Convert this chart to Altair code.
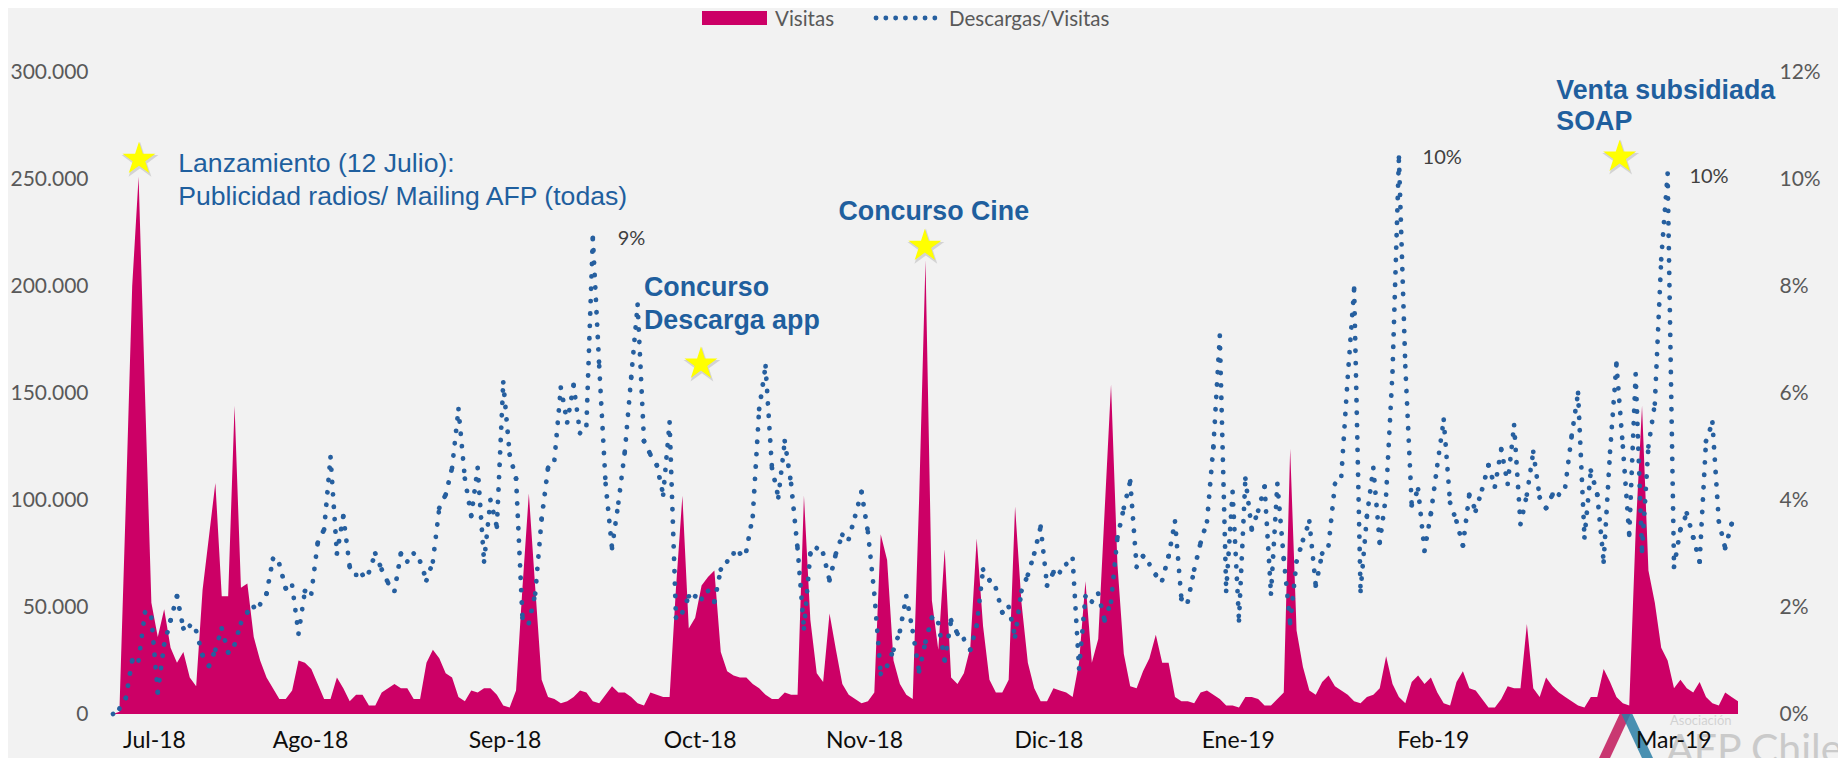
import altair as alt
import pandas as pd

# ---------------- data ----------------
# daily visits, in thousands
visitas_k = [
    0, 1, 98, 200, 251, 150, 52, 36, 49, 31, 24, 29, 17, 13, 58, 83, 108, 55, 55, 144,
    59, 61, 36, 25, 17, 12, 7, 7, 11, 25, 24, 21, 14, 7, 7, 17, 12, 6, 9, 9,
    4, 4, 10, 12, 14, 12, 12, 7, 7, 24, 30, 26, 19, 17, 8, 6, 11, 10, 12, 12,
    9, 4, 3, 11, 59, 103, 59, 16, 8, 7, 5, 6, 8, 11, 10, 6, 5, 9, 13, 10,
    10, 8, 5, 4, 10, 9, 8, 8, 59, 102, 40, 45, 60, 64, 67, 29, 20, 18, 17, 17,
    14, 12, 9, 7, 7, 10, 9, 9, 102, 44, 19, 15, 47, 30, 14, 9, 7, 5, 6, 10,
    84, 72, 25, 14, 9, 7, 100, 212, 53, 30, 77, 17, 14, 19, 31, 82, 41, 16, 10, 10,
    16, 97, 52, 24, 12, 6, 6, 12, 11, 10, 8, 24, 62, 24, 35, 95, 154, 70, 28, 13,
    12, 20, 26, 37, 24, 24, 8, 6, 6, 5, 10, 11, 9, 7, 4, 4, 3, 8, 8, 7,
    4, 4, 7, 10, 124, 39, 22, 11, 9, 15, 18, 13, 11, 9, 6, 5, 8, 9, 12, 27,
    14, 8, 5, 15, 18, 14, 17, 10, 5, 4, 15, 20, 12, 11, 7, 3, 3, 7, 13, 12,
    12, 42, 12, 8, 17, 13, 10, 8, 6, 4, 3, 8, 8, 21, 15, 8, 5, 4, 85, 144,
    67, 52, 31, 25, 12, 16, 12, 10, 15, 8, 5, 4, 10, 8, 6,
]

# daily downloads / visits, in percent
ratio_pct = [
    0, 0.1, 0.3, 1.0, 1.0, 1.9, 1.8, 0.4, 1.3, 1.75, 2.2, 1.6, 1.65, 1.55, 1.1, 0.9, 1.2, 1.6, 1.15, 1.3,
    1.7, 1.9, 2.0, 2.05, 2.25, 2.9, 2.8, 2.35, 2.4, 1.5, 2.3, 2.25, 3.2, 3.45, 4.8, 3.0, 3.7, 2.75, 2.6, 2.6,
    2.65, 3.0, 2.7, 2.45, 2.3, 3.0, 2.85, 3.0, 2.85, 2.5, 2.85, 3.85, 4.1, 4.6, 5.7, 4.4, 3.7, 4.6, 2.85, 4.0,
    3.5, 6.2, 4.85, 4.4, 1.8, 1.7, 2.25, 3.65, 4.6, 4.75, 6.1, 5.45, 6.15, 5.25, 5.4, 8.9, 6.5, 4.3, 3.1, 3.95,
    4.9, 6.3, 7.65, 5.1, 4.85, 4.65, 4.1, 5.45, 1.8, 1.9, 2.2, 2.2, 2.15, 2.3, 2.1, 2.7, 2.85, 3.0, 3.0, 3.05,
    3.7, 5.7, 6.5, 4.6, 4.05, 5.1, 4.3, 3.1, 1.6, 3.0, 3.1, 3.0, 2.5, 3.0, 3.35, 3.27, 3.7, 4.15, 3.4, 2.25,
    0.75, 0.9, 1.2, 1.55, 2.2, 1.55, 0.8, 1.35, 1.8, 1.7, 1.0, 1.75, 1.5, 1.4, 1.2, 1.65, 2.7, 2.5, 2.35, 1.9,
    2.0, 1.45, 2.3, 2.6, 3.0, 3.5, 2.4, 2.65, 2.65, 2.8, 2.9, 0.85, 2.2, 2.1, 2.25, 1.75, 2.1, 3.3, 3.85, 4.35,
    2.75, 2.95, 2.8, 2.6, 2.5, 2.95, 3.6, 2.15, 2.1, 2.7, 3.2, 3.6, 5.0, 7.07, 2.3, 4.15, 1.75, 4.4, 3.45, 3.8,
    4.25, 2.25, 4.3, 2.9, 1.7, 2.85, 3.25, 3.6, 2.4, 3.0, 3.15, 4.3, 4.45, 6.3, 7.95, 2.3, 3.7, 4.6, 3.2, 4.1,
    6.4, 10.4, 6.5, 3.9, 4.2, 3.05, 3.75, 4.65, 5.5, 3.95, 3.6, 3.15, 4.1, 3.8, 4.2, 4.65, 4.25, 4.95, 4.3, 5.4,
    3.55, 4.1, 4.9, 4.05, 3.85, 4.1, 4.1, 4.25, 5.2, 6.0, 3.3, 4.55, 4.1, 2.85, 4.9, 6.55, 5.0, 3.35, 6.35, 3.05,
    5.0, 5.8, 8.5, 10.1, 2.75, 3.45, 3.75, 3.3, 2.85, 5.1, 5.45, 3.6, 3.1, 3.55, 3.7,
]

meses = ["Jul-18", "Ago-18", "Sep-18", "Oct-18", "Nov-18", "Dic-18", "Ene-19", "Feb-19", "Mar-19"]
mes_pos = [6.4, 30.8, 61.2, 91.7, 117.4, 146.2, 175.8, 206.3, 243.9]

y_ticks = [0, 50000, 100000, 150000, 200000, 250000, 300000]
pct_ticks = [0, 0.02, 0.04, 0.06, 0.08, 0.10, 0.12]

# annotations: text, day position, height on the visits scale
notas_regular = ["Lanzamiento (12 Julio):", "Publicidad radios/ Mailing AFP (todas)"]
notas_regular_x = [10.2, 10.2]
notas_regular_y = [257000, 241600]

notas_bold = ["Concurso", "Descarga app", "Concurso Cine", "Venta subsidiada", "SOAP"]
notas_bold_x = [83.0, 83.0, 113.4, 225.6, 225.6]
notas_bold_y = [199000, 183600, 234600, 291000, 276600]

notas_pct = ["9%", "10%", "10%"]
notas_pct_x = [78.9, 204.7, 246.4]
notas_pct_y = [222000, 259800, 251000]

estrellas_x = [4.06, 91.9, 126.9, 235.5]
estrellas_y = [259300, 163600, 218700, 260300]

# ---------------- tables ----------------
N = len(visitas_k)
df = pd.DataFrame({"dia": list(range(N)), "visitas": [v * 1000 for v in visitas_k]})
seg = pd.DataFrame({
    "dia": list(range(N - 1)),
    "dia2": list(range(1, N)),
    "r": [r / 100 for r in ratio_pct[:-1]],
    "r2": [r / 100 for r in ratio_pct[1:]],
})
df_reg = pd.DataFrame({"t": notas_regular, "x": notas_regular_x, "y": notas_regular_y})
df_bold = pd.DataFrame({"t": notas_bold, "x": notas_bold_x, "y": notas_bold_y})
df_pct = pd.DataFrame({"t": notas_pct, "x": notas_pct_x, "y": notas_pct_y})
df_star = pd.DataFrame({"x": estrellas_x, "y": estrellas_y})

# ---------------- styling ----------------
MAGENTA = "#CC0066"
AZUL_PUNTOS = "#265F9F"
AZUL_TEXTO = "#1F5F9E"
GRIS = "#595959"
DOTS = [0.1, 12.3]

W, H = 1625, 642
xs = alt.Scale(domain=[0, N - 1], nice=False, zero=False, padding=0)
ys = alt.Scale(domain=[0, 300000], nice=False, zero=True)
ps = alt.Scale(domain=[0, 0.12], nice=False, zero=True)

STAR = ("M0,-1 L0.2245,-0.309 L0.951,-0.309 L0.363,0.118 L0.588,0.809 "
        "L0,0.382 L-0.588,0.809 L-0.363,0.118 L-0.951,-0.309 L-0.2245,-0.309 Z")

# month label lookup built from the two lists (nested conditional)
mids = [(a + b) / 2 for a, b in zip(mes_pos[:-1], mes_pos[1:])]
label_expr_x = ""
for m, lim in zip(meses[:-1], mids):
    label_expr_x += "datum.value < %s ? '%s' : " % (lim, m)
label_expr_x += "'%s'" % meses[-1]

X_AX = alt.Axis(
    values=mes_pos, labelExpr=label_expr_x, title=None, grid=False, domain=False,
    ticks=False, tickSize=0, labelFont="Lato", labelFontSize=23, labelColor="#0D0D0D",
    labelPadding=15, labelOverlap=False, labelFlush=False, zindex=2)


def X(field):
    return alt.X(field, scale=xs, axis=X_AX)


area = alt.Chart(df).mark_area(color=MAGENTA, opacity=1).encode(
    x=X("dia:Q"),
    y=alt.Y("visitas:Q", scale=ys, axis=alt.Axis(
        values=y_ticks, labelExpr="replace(format(datum.value, ','), ',', '.')",
        title=None, grid=False, domain=False, ticks=False, tickSize=0,
        labelFont="Lato", labelFontSize=21, labelColor=GRIS, labelPadding=25)),
)

puntos = alt.Chart(seg).mark_rule(
    color=AZUL_PUNTOS, strokeWidth=4.8, strokeDash=DOTS, strokeCap="round"
).encode(
    x=X("dia:Q"),
    x2="dia2:Q",
    y=alt.Y("r:Q", scale=ps, axis=alt.Axis(
        orient="right", values=pct_ticks, format=".0%", title=None, grid=False,
        domain=False, ticks=False, tickSize=0, labelFont="Lato", labelFontSize=21,
        labelColor=GRIS, labelPadding=41)),
    y2="r2:Q",
)


def ann_y():
    return alt.Y("y:Q", scale=ys, axis=None)


sombra = alt.Chart(df_star).mark_point(
    shape=STAR, size=1500, filled=True, color="#9A9A9A", opacity=0.35,
    strokeWidth=0, xOffset=1, yOffset=2
).encode(x=X("x:Q"), y=ann_y())

estrellas = alt.Chart(df_star).mark_point(
    shape=STAR, size=1200, filled=True, color="#FFFF00", opacity=1, strokeWidth=0
).encode(x=X("x:Q"), y=ann_y())

txt_reg = alt.Chart(df_reg).mark_text(
    align="left", baseline="middle", font="Liberation Sans", fontSize=26.6, color=AZUL_TEXTO
).encode(x=X("x:Q"), y=ann_y(), text="t:N")

txt_bold = alt.Chart(df_bold).mark_text(
    align="left", baseline="middle", font="Liberation Sans", fontSize=26.8,
    fontWeight="bold", color=AZUL_TEXTO
).encode(x=X("x:Q"), y=ann_y(), text="t:N")

txt_pct = alt.Chart(df_pct).mark_text(
    align="left", baseline="middle", font="Lato", fontSize=20, color="#404040"
).encode(x=X("x:Q"), y=ann_y(), text="t:N")

# ---------------- legend (top) ----------------
leg_rect = alt.Chart(df.head(1)).mark_rect(color=MAGENTA).encode(
    x=alt.value(589), x2=alt.value(654), y=alt.value(-61), y2=alt.value(-47))
leg_t1 = alt.Chart(df.head(1)).mark_text(
    align="left", baseline="middle", font="Lato", fontSize=20.5, color=GRIS
).encode(x=alt.value(662), y=alt.value(-52), text=alt.value("Visitas"))
leg_dots = alt.Chart(df.head(1)).mark_rule(
    color=AZUL_PUNTOS, strokeWidth=4.8, strokeDash=[0.1, 9.7], strokeCap="round"
).encode(x=alt.value(763), x2=alt.value(830), y=alt.value(-54))
leg_t2 = alt.Chart(df.head(1)).mark_text(
    align="left", baseline="middle", font="Lato", fontSize=20.5, color=GRIS
).encode(x=alt.value(836), y=alt.value(-52), text=alt.value("Descargas/Visitas"))

# ---------------- logo watermark ----------------
logo_a = alt.Chart(df.head(1)).mark_rule(color="#C2185B", strokeWidth=10, opacity=0.85).encode(
    x=alt.value(1485), x2=alt.value(1513), y=alt.value(700), y2=alt.value(640))
logo_b = alt.Chart(df.head(1)).mark_rule(color="#2B7FA6", strokeWidth=10, opacity=0.85).encode(
    x=alt.value(1513), x2=alt.value(1541), y=alt.value(640), y2=alt.value(700))
logo_t = alt.Chart(df.head(1)).mark_text(
    align="left", baseline="middle", font="Lato", fontSize=41, color="#C4C4C4", opacity=0.85
).encode(x=alt.value(1553), y=alt.value(679), text=alt.value("AFP Chile"))
logo_s = alt.Chart(df.head(1)).mark_text(
    align="left", baseline="middle", font="Lato", fontSize=13, color="#D2D2D2"
).encode(x=alt.value(1557), y=alt.value(649), text=alt.value("Asociación"))

chart = alt.layer(
    logo_a, logo_b, logo_t, logo_s,
    area, puntos, sombra, estrellas, txt_reg, txt_bold, txt_pct,
    leg_rect, leg_t1, leg_dots, leg_t2,
).resolve_scale(y="independent").properties(
    width=W, height=H,
    autosize=alt.AutoSizeParams(type="none"),
    padding={"left": 105, "top": 64, "right": 100, "bottom": 44},
    background="#F2F2F2",
).configure_view(stroke=None)

chart.save("out.html", embed_options={"renderer": "svg", "actions": False})
